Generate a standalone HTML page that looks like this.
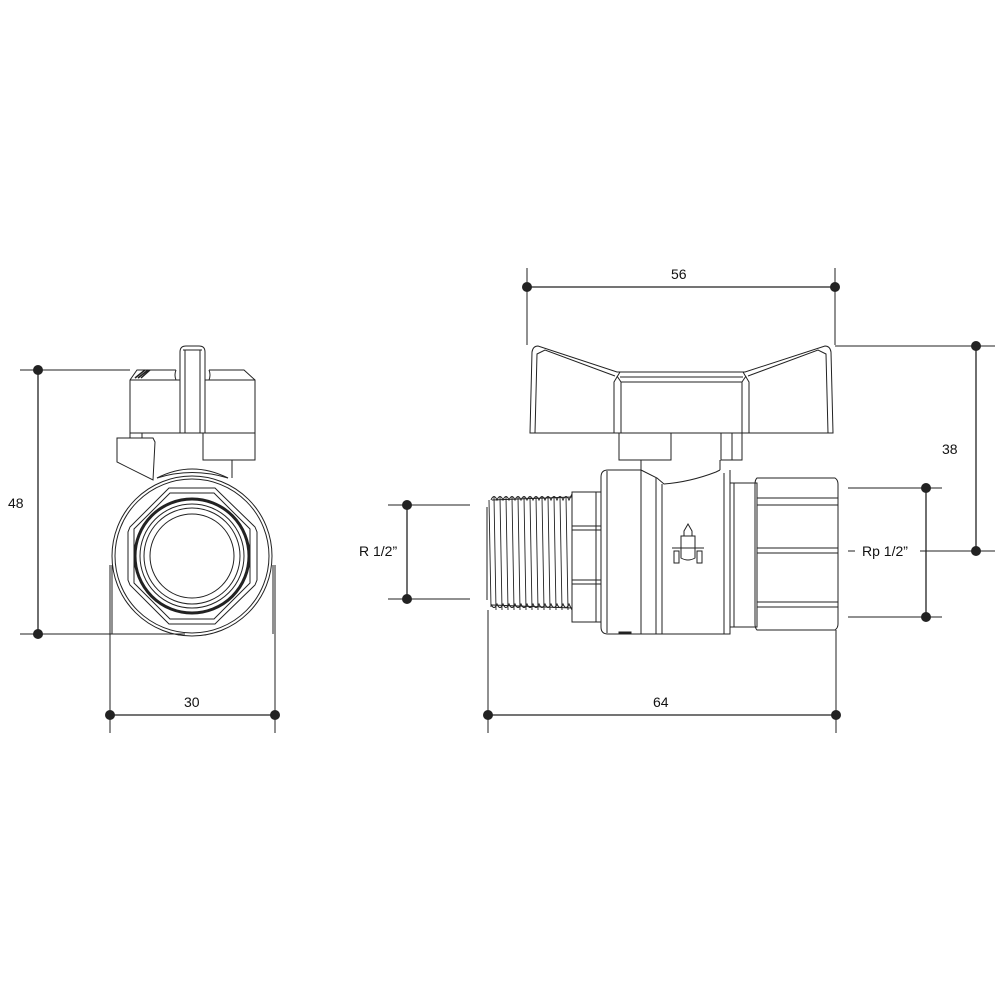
<!DOCTYPE html>
<html><head><meta charset="utf-8"><style>
html,body{margin:0;padding:0;background:#fff}
svg{display:block}
text{font-family:"Liberation Sans",sans-serif;font-size:14px;fill:#111}
</style></head><body>
<svg width="1000" height="1000" viewBox="0 0 1000 1000" xmlns="http://www.w3.org/2000/svg">
<g stroke="#222" stroke-width="1" fill="none">
<!-- LEFT VIEW dims -->
<line x1="20" y1="370" x2="130" y2="370"/>
<line x1="20" y1="634" x2="185" y2="634"/>
<line x1="38" y1="370" x2="38" y2="634" stroke-width="1.3"/>
<line x1="110" y1="565" x2="110" y2="733"/>
<line x1="275" y1="565" x2="275" y2="733"/>
<line x1="110" y1="715" x2="275" y2="715" stroke-width="1.3"/>
<!-- left view drawing -->
<path d="M180,352 Q180,346 186,346 L199,346 Q205,346 205,352 L205,433"/>
<line x1="180" y1="352" x2="180" y2="433"/>
<line x1="183" y1="350" x2="202" y2="350"/>
<line x1="185" y1="350" x2="185" y2="433"/><line x1="200" y1="350" x2="200" y2="433"/>
<path d="M176,370 L137,370 L130,380 L130,433 L255,433 L255,380 L244,370 L209,370"/>
<path d="M176,370 Q174,375 176,380 M209,370 Q211,375 209,380"/>
<line x1="130" y1="380" x2="180" y2="380"/><line x1="205" y1="380" x2="255" y2="380"/>
<path d="M135,378 L145,370 M138,378 L148,370 M141,378 L150,370" stroke-width="1.5"/>
<rect x="203" y="433" width="52" height="27"/>
<line x1="232" y1="460" x2="232" y2="478"/>
<path d="M117,438 L153,438 L155,442 L153,480 L117,462 Z"/>
<line x1="130" y1="433" x2="130" y2="438"/><line x1="142" y1="433" x2="142" y2="438"/>
<path d="M157,478 Q192,460 228,478"/>
<path d="M157,478 Q192,467 228,478"/>
<circle cx="192" cy="556" r="80"/>
<circle cx="192" cy="556" r="77"/>
<polygon points="169,488 215,488 220,493 255,527 257,532 257,580 255,585 220,619 215,624 169,624 164,619 130,585 128,580 128,532 130,527 164,493"/>
<polygon points="170,493 214,493 250,529 250,583 214,619 170,619 134,583 134,529"/>
<circle cx="192" cy="556" r="57" stroke-width="3"/>
<circle cx="192" cy="556" r="52"/>
<circle cx="192" cy="556" r="48"/>
<circle cx="192" cy="556" r="42"/>
<line x1="112" y1="565" x2="112" y2="634"/>
<line x1="273" y1="565" x2="273" y2="634"/>

<!-- RIGHT VIEW dims -->
<line x1="527" y1="268" x2="527" y2="345"/>
<line x1="835" y1="268" x2="835" y2="345"/>
<line x1="527" y1="287" x2="835" y2="287" stroke-width="1.3"/>
<line x1="835" y1="346" x2="995" y2="346"/>
<line x1="976" y1="346" x2="976" y2="551" stroke-width="1.3"/>
<line x1="920" y1="551" x2="995" y2="551"/>
<line x1="848" y1="551" x2="855" y2="551"/>
<line x1="848" y1="488" x2="942" y2="488"/>
<line x1="848" y1="617" x2="942" y2="617"/>
<line x1="926" y1="488" x2="926" y2="617" stroke-width="1.3"/>
<line x1="388" y1="505" x2="470" y2="505"/>
<line x1="388" y1="599" x2="470" y2="599"/>
<line x1="407" y1="505" x2="407" y2="599" stroke-width="1.3"/>
<line x1="488" y1="610" x2="488" y2="733"/>
<line x1="836" y1="630" x2="836" y2="733"/>
<line x1="488" y1="715" x2="836" y2="715" stroke-width="1.3"/>

<!-- handle -->
<path d="M530,433 L532,352 Q533,346 538,346 L617,372 L745,372 L825,346 Q830,346 831,352 L833,433 Z"/>
<path d="M535,433 L537,354 L545,350 L615,376"/>
<path d="M828,433 L826,354 L818,350 L748,376"/>
<path d="M614,433 L614,382 L620,372 M749,433 L749,382 L743,372"/>
<path d="M621,433 L621,382 L617,376 M742,433 L742,382 L746,376"/>
<line x1="621" y1="382" x2="742" y2="382"/>
<line x1="620" y1="377" x2="743" y2="377"/>
<rect x="619" y="433" width="52" height="27"/>
<rect x="721" y="433" width="21" height="27"/>
<line x1="732" y1="433" x2="732" y2="460"/>
<line x1="641" y1="460" x2="641" y2="470"/>
<line x1="720" y1="460" x2="720" y2="470"/>
<!-- body -->
<path d="M641,470 L608,470 Q601,470 601,477 L601,627 Q601,634 608,634 L730,634 L730,470"/>
<path d="M641,470 L657,478 L664,484 Q690,482 716,472 L720,470"/>
<line x1="607" y1="471" x2="607" y2="633"/>
<line x1="641" y1="470" x2="641" y2="634"/>
<line x1="656" y1="478" x2="656" y2="634"/>
<line x1="662" y1="484" x2="662" y2="634"/>
<line x1="724" y1="473" x2="724" y2="634"/>
<rect x="730" y="483" width="27" height="144"/>
<line x1="734" y1="483" x2="734" y2="627"/>
<path d="M757,478 L835,478 Q838,480 838,484 L838,624 Q838,628 835,630 L757,630 Q755,628 755,624 L755,484 Q755,480 757,478 Z"/>
<line x1="757" y1="498" x2="838" y2="498"/><line x1="757" y1="505" x2="838" y2="505"/>
<line x1="757" y1="548" x2="838" y2="548"/><line x1="757" y1="553" x2="838" y2="553"/>
<line x1="757" y1="602" x2="838" y2="602"/><line x1="757" y1="607" x2="838" y2="607"/>
<rect x="572" y="492" width="29" height="130"/>
<line x1="596" y1="492" x2="596" y2="622"/>
<line x1="572" y1="526" x2="601" y2="526"/><line x1="572" y1="530" x2="601" y2="530"/>
<line x1="572" y1="580" x2="601" y2="580"/><line x1="572" y1="584" x2="601" y2="584"/>
<rect x="619" y="632" width="12" height="2" fill="#222"/>
<!-- logo -->
<path d="M684,536 L684,531 L688,524 L692,531 L692,536 M681,536 L695,536 L695,558 Q688,562 681,558 Z M672,548 L704,548 M674,551 L674,563 L679,563 L679,551 Z M697,551 L697,563 L702,563 L702,551 Z"/>
<!-- thread -->
<path d="M492,500 L572,497 M492,605 L572,608 M487,507 L487,600"/>
<path d="M489,500 L491,607 M494,497 L496,610 M500,497 L502,610 M506,497 L508,610 M512,497 L514,610 M518,497 L520,610 M524,497 L526,610 M530,497 L532,610 M536,497 L538,610 M542,497 L544,610 M548,497 L550,610 M554,497 L556,610 M560,497 L562,610 M566,497 L568,610" stroke-width="0.9"/>
<path d="M491,500 Q494,493 497,500 Q500,493 503,500 Q506,493 509,500 Q512,493 515,500 Q518,493 521,500 Q524,493 527,500 Q530,493 533,500 Q536,493 539,500 Q542,493 545,500 Q548,493 551,500 Q554,493 557,500 Q560,493 563,500 Q566,493 569,500 L572,494"/>
<path d="M491,604 Q494,611 497,604 Q500,611 503,604 Q506,611 509,604 Q512,611 515,604 Q518,611 521,604 Q524,611 527,604 Q530,611 533,604 Q536,611 539,604 Q542,611 545,604 Q548,611 551,604 Q554,611 557,604 Q560,611 563,604 Q566,611 569,604 L572,610"/>
</g>
<g fill="#222">
<circle cx="38" cy="370" r="5"/><circle cx="38" cy="634" r="5"/>
<circle cx="110" cy="715" r="5"/><circle cx="275" cy="715" r="5"/>
<circle cx="527" cy="287" r="5"/><circle cx="835" cy="287" r="5"/>
<circle cx="976" cy="346" r="5"/><circle cx="976" cy="551" r="5"/>
<circle cx="926" cy="488" r="5"/><circle cx="926" cy="617" r="5"/>
<circle cx="407" cy="505" r="5"/><circle cx="407" cy="599" r="5"/>
<circle cx="488" cy="715" r="5"/><circle cx="836" cy="715" r="5"/>
</g>
<text x="8" y="508">48</text>
<text x="184" y="707">30</text>
<text x="671" y="279">56</text>
<text x="942" y="454">38</text>
<text x="862" y="556">Rp 1/2”</text>
<text x="359" y="556">R 1/2”</text>
<text x="653" y="707">64</text>
</svg>
</body></html>
